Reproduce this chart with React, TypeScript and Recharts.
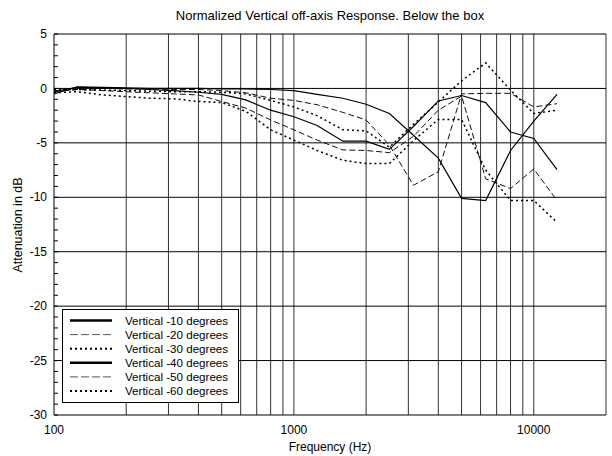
import React from "react";
import { LineChart, Line, XAxis, YAxis, ReferenceLine } from "recharts";

// 1/3-octave measurement points (Hz)
const freqs = [100, 125, 160, 200, 250, 315, 400, 500, 630, 800, 1000, 1250, 1600, 2000, 2500, 3150, 4000, 5000, 6300, 8000, 10000, 12500];

// attenuation in dB
const vert10 = [-0.5, 0.15, 0.1, 0.05, 0, 0, 0, -0.05, -0.05, -0.1, -0.2, -0.55, -0.9, -1.45, -2.3, -4.3, -6.4, -10.1, -10.3, -5.7, -3.0, -0.55];
const vert20 = [-0.2, -0.1, 0, -0.05, -0.05, -0.1, -0.1, -0.2, -0.4, -0.9, -1.1, -1.5, -2.2, -2.9, -5.2, -8.9, -7.65, -0.5, -0.45, -0.45, -1.7, -1.4];
const vert30 = [-0.1, -0.1, -0.15, -0.2, -0.25, -0.3, -0.3, -0.35, -0.5, -1.1, -1.7, -2.5, -3.8, -3.9, -5.4, -3.3, -1.25, 0.7, 2.35, -0.15, -2.3, -2.0];
const vert40 = [-0.3, 0.1, 0.05, 0, -0.1, -0.2, -0.35, -0.55, -1.05, -2.0, -2.6, -3.4, -4.85, -4.85, -5.6, -3.5, -1.15, -0.65, -1.3, -4.0, -4.6, -7.45];
const vert50 = [-0.3, -0.1, -0.2, -0.3, -0.4, -0.5, -0.6, -1.2, -1.8, -2.9, -3.8, -4.75, -5.65, -5.7, -5.9, -4.4, -2.0, -0.7, -8.3, -9.2, -7.4, -10.3];
const vert60 = [-0.4, -0.3, -0.6, -0.75, -0.9, -0.95, -1.2, -1.3, -2.1, -3.8, -4.75, -5.7, -6.6, -6.9, -6.9, -4.8, -2.85, -2.85, -7.5, -10.3, -10.3, -12.3];

const xTicks = [100, 1000, 10000];
const xGrid = [200, 300, 400, 500, 600, 700, 800, 900, 1000, 2000, 3000, 4000, 5000, 6000, 7000, 8000, 9000, 10000, 20000];
const yGrid = [-25, -20, -15, -10, -5, 0, 5];
const yTicks = Array.from({ length: 36 }, (_, i) => -30 + i);

const series = [
  { key: "v10", name: "Vertical -10 degrees", values: vert10, kind: "solid" },
  { key: "v20", name: "Vertical -20 degrees", values: vert20, kind: "dashed" },
  { key: "v30", name: "Vertical -30 degrees", values: vert30, kind: "dotted" },
  { key: "v40", name: "Vertical -40 degrees", values: vert40, kind: "solid" },
  { key: "v50", name: "Vertical -50 degrees", values: vert50, kind: "dashed" },
  { key: "v60", name: "Vertical -60 degrees", values: vert60, kind: "dotted" },
];

const data = freqs.map((f, i) => {
  const row: any = { f };
  series.forEach((s) => (row[s.key] = s.values[i]));
  return row;
});

const font = "'Liberation Sans', Arial, sans-serif";

const lineStyle: Record<string, any> = {
  solid: { stroke: "#000", strokeWidth: 1.2 },
  dashed: { stroke: "#111", strokeWidth: 1, strokeDasharray: "6 3" },
  dotted: { stroke: "#000", strokeWidth: 1.5, strokeDasharray: "2 3" },
};

const legendStyle: Record<string, any> = {
  solid: { stroke: "#000", strokeWidth: 2.5 },
  dashed: { stroke: "#555", strokeWidth: 1, strokeDasharray: "8 3" },
  dotted: { stroke: "#000", strokeWidth: 2, strokeDasharray: "2 3" },
};

function YTick({ x, y, payload }: any) {
  const v = payload.value;
  return (
    <g>
      <line x1={x} x2={x + 4} y1={y} y2={y} stroke="#000" />
      {v % 5 === 0 && (
        <text x={x - 7} y={y} dy="0.35em" textAnchor="end" fontSize={12} fill="#000" fontFamily={font}>
          {v}
        </text>
      )}
    </g>
  );
}

function ChartLegend() {
  return (
    <svg width={177} height={94} style={{ position: "absolute", left: 62, top: 309 }}>
      <rect x={0.5} y={0.5} width={176} height={93} fill="#fff" stroke="#000" />
      {series.map((s, i) => {
        const cy = 11.5 + i * 14.1;
        return (
          <g key={s.key}>
            <line x1={8} x2={50} y1={cy} y2={cy} {...legendStyle[s.kind]} />
            <text x={63} y={cy} dy="0.35em" fontSize={11.6} fontFamily={font} fill="#000">
              {s.name}
            </text>
          </g>
        );
      })}
    </svg>
  );
}

export default function App() {
  return (
    <div style={{ position: "absolute", left: 0, top: 0, width: 612, height: 456, background: "#fff" }}>
      <LineChart width={612} height={456} data={data} margin={{ top: 34, right: 6, bottom: 0, left: 10 }}>
        {xGrid.map((g) => (
          <ReferenceLine key={"x" + g} x={g} stroke="#333" strokeWidth={1} />
        ))}
        {yGrid.map((g) => (
          <ReferenceLine key={"y" + g} y={g} stroke="#000" strokeWidth={1} />
        ))}
        <XAxis
          dataKey="f"
          type="number"
          scale="log"
          domain={[100, 20000]}
          allowDataOverflow
          ticks={xTicks}
          tickLine={false}
          tickSize={0}
          tickMargin={10}
          height={41}
          axisLine={{ stroke: "#000" }}
          tick={{ fontSize: 12, fill: "#000", fontFamily: font }}
        />
        <YAxis
          type="number"
          domain={[-30, 5]}
          ticks={yTicks}
          interval={0}
          width={44}
          tickLine={false}
          tickSize={0}
          tickMargin={0}
          axisLine={{ stroke: "#000" }}
          tick={<YTick />}
        />
        {series.map((s) => (
          <Line
            key={s.key}
            dataKey={s.key}
            name={s.name}
            type="linear"
            dot={false}
            isAnimationActive={false}
            {...lineStyle[s.kind]}
          />
        ))}
      </LineChart>
      <svg width={612} height={456} style={{ position: "absolute", left: 0, top: 0, pointerEvents: "none" }}>
        <text x={330} y={15} dy="0.35em" textAnchor="middle" fontSize={13} fontFamily={font} fill="#000">
          Normalized Vertical off-axis Response. Below the box
        </text>
        <text x={330} y={447} dy="0.35em" textAnchor="middle" fontSize={12} fontFamily={font} fill="#000">
          Frequency (Hz)
        </text>
        <text
          x={18}
          y={225}
          dy="0.35em"
          textAnchor="middle"
          fontSize={12.5}
          fontFamily={font}
          fill="#000"
          transform="rotate(-90 18 225)"
        >
          Attenuation in dB
        </text>
      </svg>
      <ChartLegend />
    </div>
  );
}
